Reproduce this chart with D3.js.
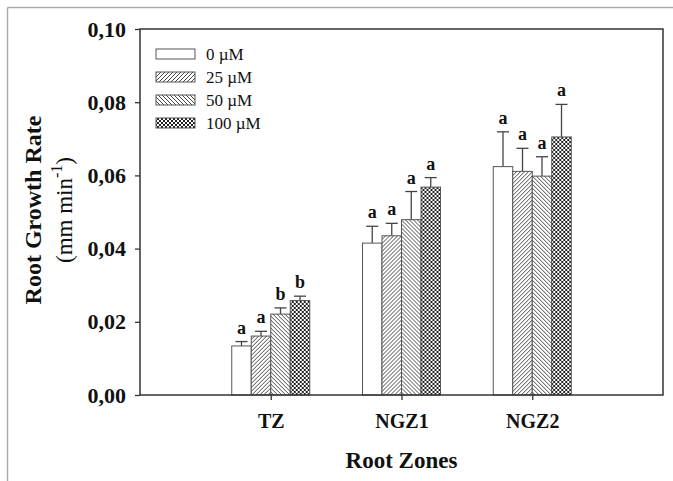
<!DOCTYPE html>
<html>
<head>
<meta charset="utf-8">
<script src="https://cdn.jsdelivr.net/npm/d3@7"></script>
<style>
body{margin:0;background:#fff;}
svg{display:block;}
text{font-family:"Liberation Serif","Times New Roman",serif;fill:#111;}
</style>
</head>
<body>
<svg width="673" height="481"></svg>
<script>
// data
var zones = ["TZ", "NGZ1", "NGZ2"];
var doses = ["0 \u00b5M", "25 \u00b5M", "50 \u00b5M", "100 \u00b5M"];
var rateTZ   = [0.0134, 0.0161, 0.0221, 0.0258];
var rateNGZ1 = [0.0415, 0.0435, 0.0479, 0.0568];
var rateNGZ2 = [0.0624, 0.0611, 0.0598, 0.0705];
var errTZ   = [0.0012, 0.0013, 0.0017, 0.0012];
var errNGZ1 = [0.0046, 0.0034, 0.0077, 0.0026];
var errNGZ2 = [0.0095, 0.0063, 0.0053, 0.0089];
var lettersTZ   = ["a", "a", "b", "b"];
var lettersNGZ1 = ["a", "a", "a", "a"];
var lettersNGZ2 = ["a", "a", "a", "a"];
var yTicks = [0, 0.02, 0.04, 0.06, 0.08, 0.10];

var rates = [rateTZ, rateNGZ1, rateNGZ2];
var errs = [errTZ, errNGZ1, errNGZ2];
var letters = [lettersTZ, lettersNGZ1, lettersNGZ2];

var svg = d3.select("svg");
var pLeft = 140, pRight = 663, pTop = 29, pBottom = 395;

// outer frame (only top/left visible)
svg.append("line").attr("x1",7.5).attr("y1",7.5).attr("x2",673).attr("y2",7.5)
	.attr("stroke","#aaa").attr("stroke-width",1.5);
svg.append("line").attr("x1",7.5).attr("y1",7.5).attr("x2",7.5).attr("y2",481)
	.attr("stroke","#aaa").attr("stroke-width",1.5);

var defs = svg.append("defs");
function hatch(id, dir){
	var p = defs.append("pattern").attr("id",id).attr("patternUnits","userSpaceOnUse")
		.attr("width",4).attr("height",4);
	p.append("rect").attr("width",4).attr("height",4).attr("fill","#fff");
	if(dir > 0){
		p.append("path").attr("d","M-1,1 L1,-1 M0,4 L4,0 M3,5 L5,3");
	}else{
		p.append("path").attr("d","M-1,3 L1,5 M0,0 L4,4 M3,-1 L5,1");
	}
	p.select("path").attr("stroke","#333").attr("stroke-width",0.9);
}
hatch("fwd", 1);
hatch("bwd", -1);
var cp = defs.append("pattern").attr("id","cross").attr("patternUnits","userSpaceOnUse")
	.attr("width",4).attr("height",4);
cp.append("rect").attr("width",4).attr("height",4).attr("fill","#fff");
cp.append("path").attr("d","M0,0 L4,4 M0,4 L4,0").attr("stroke","#222").attr("stroke-width",1);
var fills = ["#fff", "url(#fwd)", "url(#bwd)", "url(#cross)"];

var x = d3.scalePoint().domain(zones).range([pLeft, pRight]).padding(1);
var xi = d3.scaleBand().domain(doses).range([-39, 39]).padding(0);
var y = d3.scaleLinear().domain([0, 0.10]).range([pBottom, pTop]);

// bars
zones.forEach(function(z, zi){
	var g = svg.append("g").attr("transform","translate(" + x(z) + ",0)");
	doses.forEach(function(d, di){
		var v = rates[zi][di], e = errs[zi][di];
		var cx = xi(d) + xi.bandwidth()/2;
		g.append("line").attr("x1",cx).attr("x2",cx).attr("y1",y(v)).attr("y2",y(v+e))
			.attr("stroke","#444").attr("stroke-width",1.3);
		g.append("line").attr("x1",cx-6).attr("x2",cx+6).attr("y1",y(v+e)).attr("y2",y(v+e))
			.attr("stroke","#444").attr("stroke-width",1.3);
		g.append("rect").attr("x",xi(d)).attr("width",xi.bandwidth())
			.attr("y",y(v)).attr("height",y(0)-y(v))
			.attr("fill",fills[di]).attr("stroke","#555").attr("stroke-width",1);
		g.append("text").attr("x",cx).attr("y",y(v+e)-8).attr("text-anchor","middle")
			.attr("font-weight","bold").attr("font-size",18).text(letters[zi][di]);
	});
});

// frame
svg.append("rect").attr("x",pLeft).attr("y",pTop).attr("width",pRight-pLeft).attr("height",pBottom-pTop)
	.attr("fill","none").attr("stroke","#333").attr("stroke-width",1.5);

// axes
var ya = svg.append("g").attr("transform","translate(" + pLeft + ",0)")
	.call(d3.axisLeft(y).tickValues(yTicks).tickSize(5).tickPadding(9)
		.tickFormat(function(d){ return d3.format(".2f")(d).replace(".", ","); }));
ya.select(".domain").remove();
ya.selectAll("line").attr("stroke","#333").attr("stroke-width",1.3);
ya.selectAll("text").attr("font-size",22).attr("font-weight","bold")
	.attr("font-family","Liberation Serif, serif").attr("fill","#111");

var xa = svg.append("g").attr("transform","translate(0," + pBottom + ")")
	.call(d3.axisBottom(x).tickSize(5).tickPadding(14));
xa.select(".domain").remove();
xa.selectAll("line").attr("stroke","#333").attr("stroke-width",1.3);
xa.selectAll("text").attr("font-size",20).attr("font-weight","bold")
	.attr("font-family","Liberation Serif, serif").attr("fill","#111");

// titles
svg.append("text").attr("x",(pLeft+pRight)/2).attr("y",468).attr("text-anchor","middle")
	.attr("font-size",23).attr("font-weight","bold").text("Root Zones");
var yt = svg.append("text").attr("transform","translate(41,210) rotate(-90)")
	.attr("text-anchor","middle").attr("font-size",24).attr("font-weight","bold")
	.text("Root Growth Rate");
var yt2 = svg.append("text").attr("transform","translate(72,210) rotate(-90)")
	.attr("text-anchor","middle").attr("font-size",23);
yt2.append("tspan").text("(mm min");
yt2.append("tspan").attr("dy",-10).attr("font-size",16).text("-1");
yt2.append("tspan").attr("dy",10).text(")");

// legend
var lg = svg.append("g").attr("transform","translate(156,49)");
doses.forEach(function(d, i){
	lg.append("rect").attr("x",0).attr("y",i*23).attr("width",39).attr("height",10)
		.attr("fill",fills[i]).attr("stroke","#555").attr("stroke-width",1);
	lg.append("text").attr("x",50).attr("y",i*23+11).attr("font-size",17).text(d);
});
</script>
</body>
</html>
